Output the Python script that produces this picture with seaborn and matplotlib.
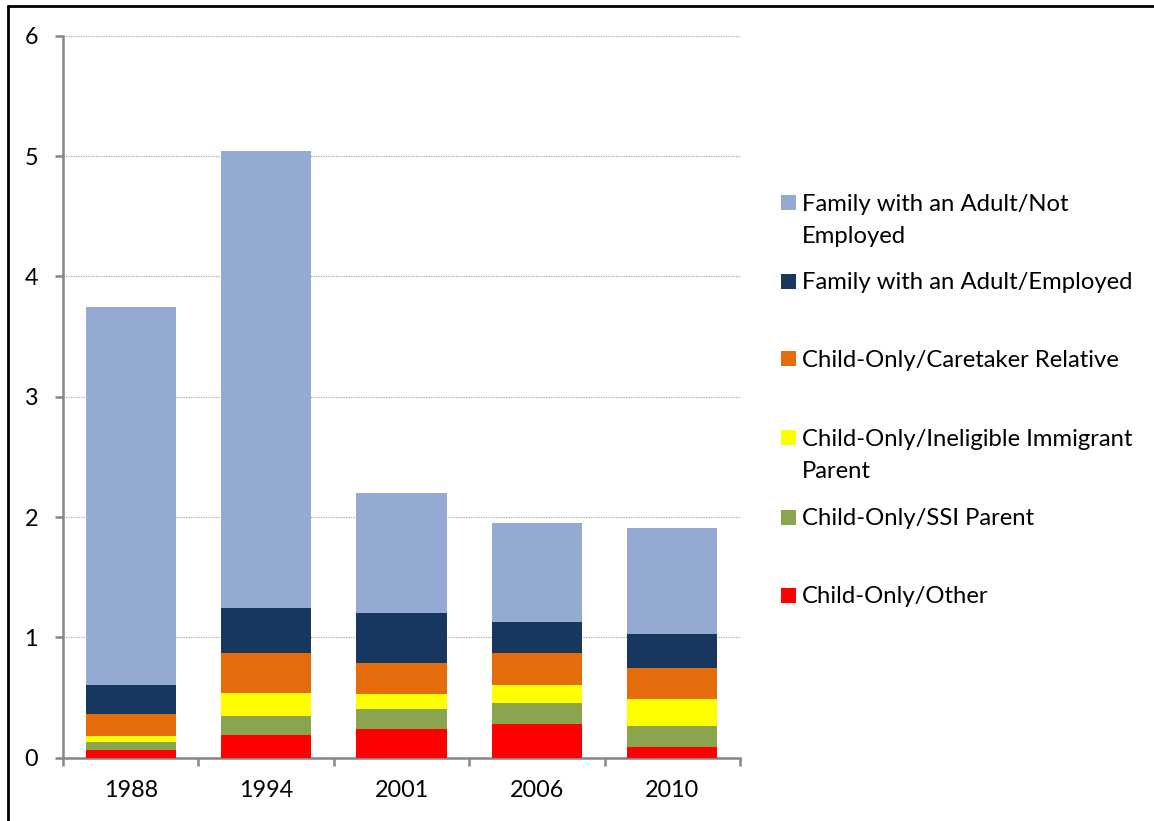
import matplotlib
matplotlib.use("Agg")
import matplotlib.pyplot as plt
import seaborn as sns
import pandas as pd
import numpy as np
from matplotlib.patches import Rectangle
from matplotlib.lines import Line2D

years = ["1988", "1994", "2001", "2006", "2010"]
child_other = [0.066, 0.183, 0.236, 0.277, 0.086]
child_ssi = [0.062, 0.166, 0.169, 0.178, 0.180]
child_immigrant = [0.047, 0.189, 0.127, 0.152, 0.222]
child_caretaker = [0.188, 0.330, 0.255, 0.263, 0.255]
adult_employed = [0.241, 0.376, 0.418, 0.260, 0.283]
adult_not_employed = [3.146, 3.796, 0.995, 0.820, 0.884]

series_names = [
    "Child-Only/Other",
    "Child-Only/SSI Parent",
    "Child-Only/Ineligible Immigrant Parent",
    "Child-Only/Caretaker Relative",
    "Family with an Adult/Employed",
    "Family with an Adult/Not Employed",
]
series_values = [child_other, child_ssi, child_immigrant, child_caretaker,
                 adult_employed, adult_not_employed]
colors = ["#FF0000", "#8BA54E", "#FFFF00", "#E46C0A", "#17375E", "#95AAD2"]
legend_labels = [
    ["Child-Only/Other"],
    ["Child-Only/SSI Parent"],
    ["Child-Only/Ineligible Immigrant", "Parent"],
    ["Child-Only/Caretaker Relative"],
    ["Family with an Adult/Employed"],
    ["Family with an Adult/Not", "Employed"],
]

W, H = 1154, 821
sns.set_theme(style="white")
plt.rcParams["font.family"] = ["Lato", "DejaVu Sans"]

fig = plt.figure(figsize=(W / 100, H / 100), dpi=100)
ax = fig.add_axes([63 / W, 1 - 757.5 / H, (740 - 63) / W, (757.5 - 36) / H])

cum = np.cumsum(np.array(series_values), axis=0)
df = pd.DataFrame({"year": years})
for i in range(len(series_names)):
    df[f"cum{i}"] = cum[i]

# Draw cumulative totals from top layer down so lower layers overlay
for i in reversed(range(len(series_names))):
    sns.barplot(data=df, x="year", y=f"cum{i}", order=years, color=colors[i],
                width=0.665, errorbar=None, ax=ax, saturation=1,
                edgecolor="none", linewidth=0, zorder=3)

ax.set_xlim(-0.5, len(years) - 0.5)
ax.set_ylim(0, 6)
ax.set_yticks(range(0, 7))
ax.set_xlabel("")
ax.set_ylabel("")

ax.yaxis.grid(True, color="#ABABAB", linestyle=(0, (1, 1)), linewidth=0.9, zorder=0)
ax.xaxis.grid(False)
ax.set_axisbelow(True)

for s in ["top", "right"]:
    ax.spines[s].set_visible(False)
for s in ["left", "bottom"]:
    ax.spines[s].set_color("#868686")
    ax.spines[s].set_linewidth(1.8)

ax.tick_params(axis="y", which="major", left=True, length=6, width=1.8,
               color="#868686", pad=12, labelsize=16.8, labelcolor="black")
ax.set_xticks(np.arange(-0.5, len(years), 1.0), minor=True)
ax.tick_params(axis="x", which="minor", bottom=True, length=5.5, width=1.8,
               color="#868686")
ax.tick_params(axis="x", which="major", bottom=False, length=0, pad=16,
               labelsize=16.8, labelcolor="black")

# Legend drawn manually in figure pixel coordinates
centers = [595, 517, 438, 359, 281, 203]
for i, (lbls, yc) in enumerate(zip(legend_labels, centers)):
    fig.add_artist(Rectangle((781 / W, 1 - (yc + 7.5) / H), 15 / W, 15 / H,
                             transform=fig.transFigure, facecolor=colors[i],
                             edgecolor="none"))
    for j, line in enumerate(lbls):
        fig.text(802 / W, 1 - (yc + 1.5 + 32 * j) / H, line, va="center", ha="left",
                 fontsize=17.2, color="black")

# Outer frame (left and top edges visible)
fig.add_artist(Line2D([8 / W, 8 / W], [0, 1 - 6 / H], transform=fig.transFigure,
                      color="black", linewidth=2))
fig.add_artist(Line2D([8 / W, 1], [1 - 6 / H, 1 - 6 / H], transform=fig.transFigure,
                      color="black", linewidth=2))

fig.savefig("out.png", dpi=100)
